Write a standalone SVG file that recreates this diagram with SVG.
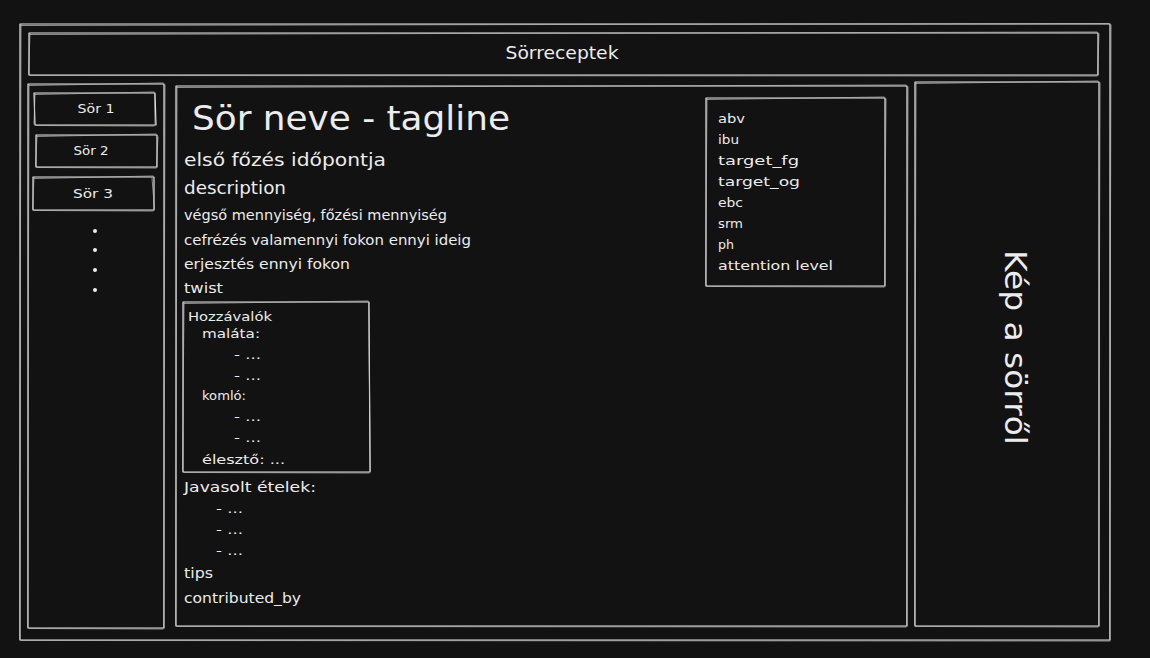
<svg xmlns="http://www.w3.org/2000/svg" width="1150" height="658" viewBox="0 0 1150 658">
<style>
.bg{fill:#121212}
.sk{fill:none;stroke:#e6e6e6;stroke-width:1.2;stroke-linecap:round;stroke-linejoin:round}
.sk2{fill:none;stroke:#bdbdbd;stroke-width:0.9;stroke-linecap:round;opacity:0.8}
text{fill:#ececec;font-family:"DejaVu Sans","Noto Sans","Liberation Sans",sans-serif}
.t13{font-size:13px}
.t14{font-size:14px}
.t15{font-size:15px}
.t18{font-size:18px}
</style>
<rect class="bg" x="0" y="0" width="1150" height="658"/>

<g id="outer-frame">
<path class="sk" d="M20 24 L1110 24 L1110 640 L20 640 Z"/>
<path class="sk2" d="M21 25.5 L1109 23.5 M1111 25 L1109.5 639 M1110 641 L21 640.5 M19.5 639 L21 25"/>
</g>

<g id="title-bar">
<path class="sk" d="M29 33 L1098 33 L1098 75 L29 75 Z"/>
<path class="sk2" d="M30 34.5 L1097 32 M1099 34 L1097.5 74 M1097 76 L30 75.5 M28.5 74 L30 34"/>
<text x="562" y="59" text-anchor="middle" textLength="113" lengthAdjust="spacingAndGlyphs" style="font-size:17px">Sörreceptek</text>
</g>

<g id="sidebar">
<path class="sk" d="M28 84 L164 84 L164 628 L28 628 Z"/>
<path class="sk2" d="M29 85.5 L163 83 M165 85 L163.5 627 M163 629 L29 628.5 M27.5 627 L29 85"/>
</g>

<g id="beer-1">
<path class="sk" d="M34 93 L155 93 L156 125 L35 125 Z"/>
<path class="sk2" d="M35 94.5 L154 92 M154.5 94 L155 124 M154 126 L36 125.5 M34 124 L35 94"/>
<text class="t13" x="96" y="113" text-anchor="middle" textLength="37" lengthAdjust="spacingAndGlyphs">Sör 1</text>
</g>

<g id="beer-2">
<path class="sk" d="M36 135 L157 135 L157 167 L36 167 Z"/>
<path class="sk2" d="M37 136.5 L156 134 M158 137 L156.5 166 M156 168 L37 167.5 M35.5 166 L37 136"/>
<text class="t13" x="91" y="155" text-anchor="middle" textLength="35" lengthAdjust="spacingAndGlyphs">Sör 2</text>
</g>

<g id="beer-3">
<path class="sk" d="M33 177 L154 177 L154 210 L33 210 Z"/>
<path class="sk2" d="M34 178.5 L153 176 M152 178 L154.5 209 M153 211 L34 210.5 M32.5 209 L34 178"/>
<text class="t13" x="93" y="198" text-anchor="middle" textLength="40" lengthAdjust="spacingAndGlyphs">Sör 3</text>
</g>

<g id="more-dots" fill="#ececec">
<circle cx="95" cy="231" r="2"/>
<circle cx="95" cy="250" r="2"/>
<circle cx="95" cy="270" r="2"/>
<circle cx="95" cy="290" r="2"/>
</g>

<g id="content-panel">
<path class="sk" d="M176 86 L907 86 L907 626 L176 626 Z"/>
<path class="sk2" d="M177 87.5 L906 85 M908 87 L906.5 625 M906 627 L177 626.5 M175.5 625 L177 87"/>
<text x="192" y="130" style="font-size:33px" textLength="318" lengthAdjust="spacingAndGlyphs">Sör neve - tagline</text>
<text class="t18" x="184" y="166" textLength="202" lengthAdjust="spacingAndGlyphs">első főzés időpontja</text>
<text class="t18" x="184" y="194" textLength="102" lengthAdjust="spacingAndGlyphs">description</text>
<text class="t14" x="184" y="220" textLength="263" lengthAdjust="spacingAndGlyphs">végső mennyiség, főzési mennyiség</text>
<text class="t14" x="184" y="245" textLength="287" lengthAdjust="spacingAndGlyphs">cefrézés valamennyi fokon ennyi ideig</text>
<text class="t14" x="184" y="269" textLength="166" lengthAdjust="spacingAndGlyphs">erjesztés ennyi fokon</text>
<text class="t14" x="184" y="293" textLength="39" lengthAdjust="spacingAndGlyphs">twist</text>
<text class="t14" x="184" y="492" textLength="132" lengthAdjust="spacingAndGlyphs">Javasolt ételek:</text>
<text class="t13" x="216" y="513" textLength="27" lengthAdjust="spacingAndGlyphs">- ...</text>
<text class="t13" x="216" y="534" textLength="27" lengthAdjust="spacingAndGlyphs">- ...</text>
<text class="t13" x="216" y="555" textLength="27" lengthAdjust="spacingAndGlyphs">- ...</text>
<text class="t14" x="184" y="578" textLength="29" lengthAdjust="spacingAndGlyphs">tips</text>
<text class="t14" x="184" y="603" textLength="117" lengthAdjust="spacingAndGlyphs">contributed_by</text>
</g>

<g id="ingredients">
<path class="sk" d="M183 302 L369 302 L370 472 L183 472 Z"/>
<path class="sk2" d="M184 303.5 L368 301 M368.5 303 L370.5 471 M369 473 L184 472.5 M182.5 471 L184 303"/>
<text class="t13" x="188" y="321" textLength="84" lengthAdjust="spacingAndGlyphs">Hozzávalók</text>
<text class="t13" x="202" y="338" textLength="58" lengthAdjust="spacingAndGlyphs">maláta:</text>
<text class="t13" x="234" y="359" textLength="27" lengthAdjust="spacingAndGlyphs">- ...</text>
<text class="t13" x="234" y="380" textLength="27" lengthAdjust="spacingAndGlyphs">- ...</text>
<text class="t13" x="202" y="400" textLength="44" lengthAdjust="spacingAndGlyphs">komló:</text>
<text class="t13" x="234" y="421" textLength="27" lengthAdjust="spacingAndGlyphs">- ...</text>
<text class="t13" x="234" y="442" textLength="27" lengthAdjust="spacingAndGlyphs">- ...</text>
<text class="t13" x="202" y="464" textLength="83" lengthAdjust="spacingAndGlyphs">élesztő: ...</text>
</g>

<g id="stats">
<path class="sk" d="M706 98 L885 98 L885 286 L706 286 Z"/>
<path class="sk2" d="M707 99.5 L884 97 M886 99 L884.5 285 M884 287 L707 286.5 M705.5 285 L707 99"/>
<text class="t13" x="718" y="123" textLength="27" lengthAdjust="spacingAndGlyphs">abv</text>
<text class="t13" x="718" y="144" textLength="21" lengthAdjust="spacingAndGlyphs">ibu</text>
<text class="t13" x="718" y="165" textLength="81" lengthAdjust="spacingAndGlyphs">target_fg</text>
<text class="t13" x="718" y="186" textLength="82" lengthAdjust="spacingAndGlyphs">target_og</text>
<text class="t13" x="718" y="207" textLength="25" lengthAdjust="spacingAndGlyphs">ebc</text>
<text class="t13" x="718" y="228" textLength="25" lengthAdjust="spacingAndGlyphs">srm</text>
<text class="t13" x="718" y="249" textLength="16" lengthAdjust="spacingAndGlyphs">ph</text>
<text class="t13" x="718" y="270" textLength="115" lengthAdjust="spacingAndGlyphs">attention level</text>
</g>

<g id="image-panel">
<path class="sk" d="M915 82 L1099 82 L1099 626 L915 626 Z"/>
<path class="sk2" d="M916 83.5 L1098 81 M1100 83 L1098.5 625 M1098 627 L916 626.5 M914.5 625 L916 83"/>
<text x="0" y="0" transform="translate(1005 250) rotate(90)" style="font-size:30px" textLength="195" lengthAdjust="spacingAndGlyphs">Kép a sörről</text>
</g>

<g id="connectors"/>
</svg>
